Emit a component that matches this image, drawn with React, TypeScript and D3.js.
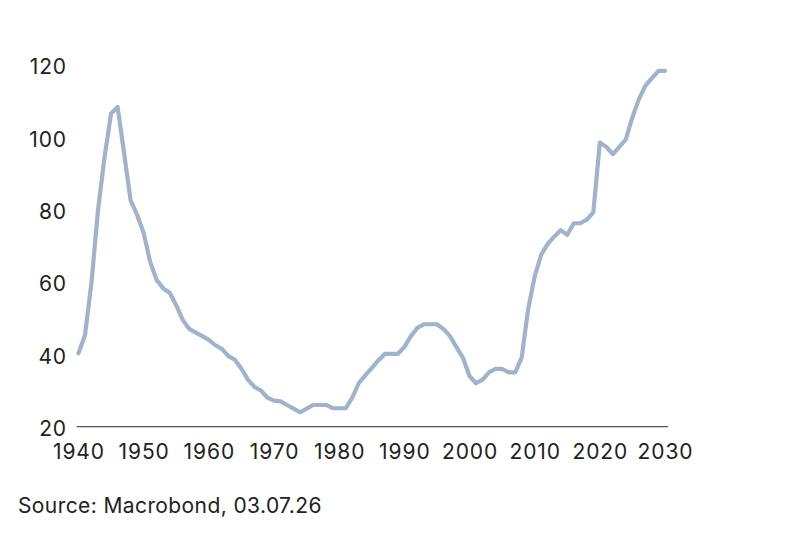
import React from "react";
import * as d3 from "d3";

const years: number[] = d3.range(1940, 2031);
const values: number[] = [
  40.3, 45.3, 60, 80, 94.5, 106.5, 108.3, 95.5, 82.5, 78.5,
  73.5, 65.5, 60.5, 58.2, 57, 53.5, 49.5, 47, 46, 45,
  44, 42.5, 41.5, 39.5, 38.5, 36, 33, 31, 30, 28,
  27.2, 27, 26, 25, 24, 25, 26, 26, 26, 25.1,
  25.1, 25.1, 28, 32, 34.2, 36.2, 38.3, 40.1, 40.1, 40.1,
  42, 45, 47.3, 48.3, 48.3, 48.3, 47, 45, 42, 39,
  34, 32, 33, 35, 36, 36, 35, 35, 39, 52.5,
  61.5, 67.5, 70.5, 72.5, 74.3, 73, 76.2, 76.2, 77.2, 79.2,
  98.5, 97.3, 95.3, 97.3, 99.4, 105.5, 110.5, 114.2, 116.3, 118.3,
  118.3,
];
const yTicks: number[] = [20, 40, 60, 80, 100, 120];
const xTicks: number[] = [1940, 1950, 1960, 1970, 1980, 1990, 2000, 2010, 2020, 2030];
const sourceText = "Source: Macrobond, 03.07.26";

const W = 800;
const H = 541;
const FONT = "Inter, 'Liberation Sans', sans-serif";

export default function App() {
  const x = d3.scaleLinear().domain([1940, 2030]).range([78.5, 665]);
  const y = d3.scaleLinear().domain([20, 120]).range([426.7, 64.7]);
  const line = d3
    .line<number>()
    .x((_, i) => x(years[i]))
    .y((d) => y(d))
    .curve(d3.curveLinear);

  return (
    <svg
      width={W}
      height={H}
      style={{ position: "absolute", left: 0, top: 0, background: "#fff" }}
    >
      <rect width={W} height={H} fill="#fff" />
      <path
        d={line(values) || ""}
        fill="none"
        stroke="#a1b3cc"
        strokeWidth={4.2}
        strokeLinejoin="round"
        strokeLinecap="round"
      />
      <line x1={76.7} x2={668} y1={y(20)} y2={y(20)} stroke="#555" strokeWidth={1.2} />
      {yTicks.map((t) => (
        <text
          key={t}
          x={67}
          y={y(t) + 2}
          textAnchor="end"
          dominantBaseline="central"
          fontFamily={FONT}
          fontSize={21}
          letterSpacing={0.9}
          fill="#222"
        >
          {t}
        </text>
      ))}
      {xTicks.map((t) => (
        <text
          key={t}
          x={x(t) + 0.5}
          y={451}
          textAnchor="middle"
          dominantBaseline="central"
          fontFamily={FONT}
          fontSize={21}
          letterSpacing={0.9}
          fill="#222"
        >
          {t}
        </text>
      ))}
      <text x={18} y={513} fontFamily={FONT} fontSize={21} letterSpacing={0.4} fill="#222">
        {sourceText}
      </text>
    </svg>
  );
}
